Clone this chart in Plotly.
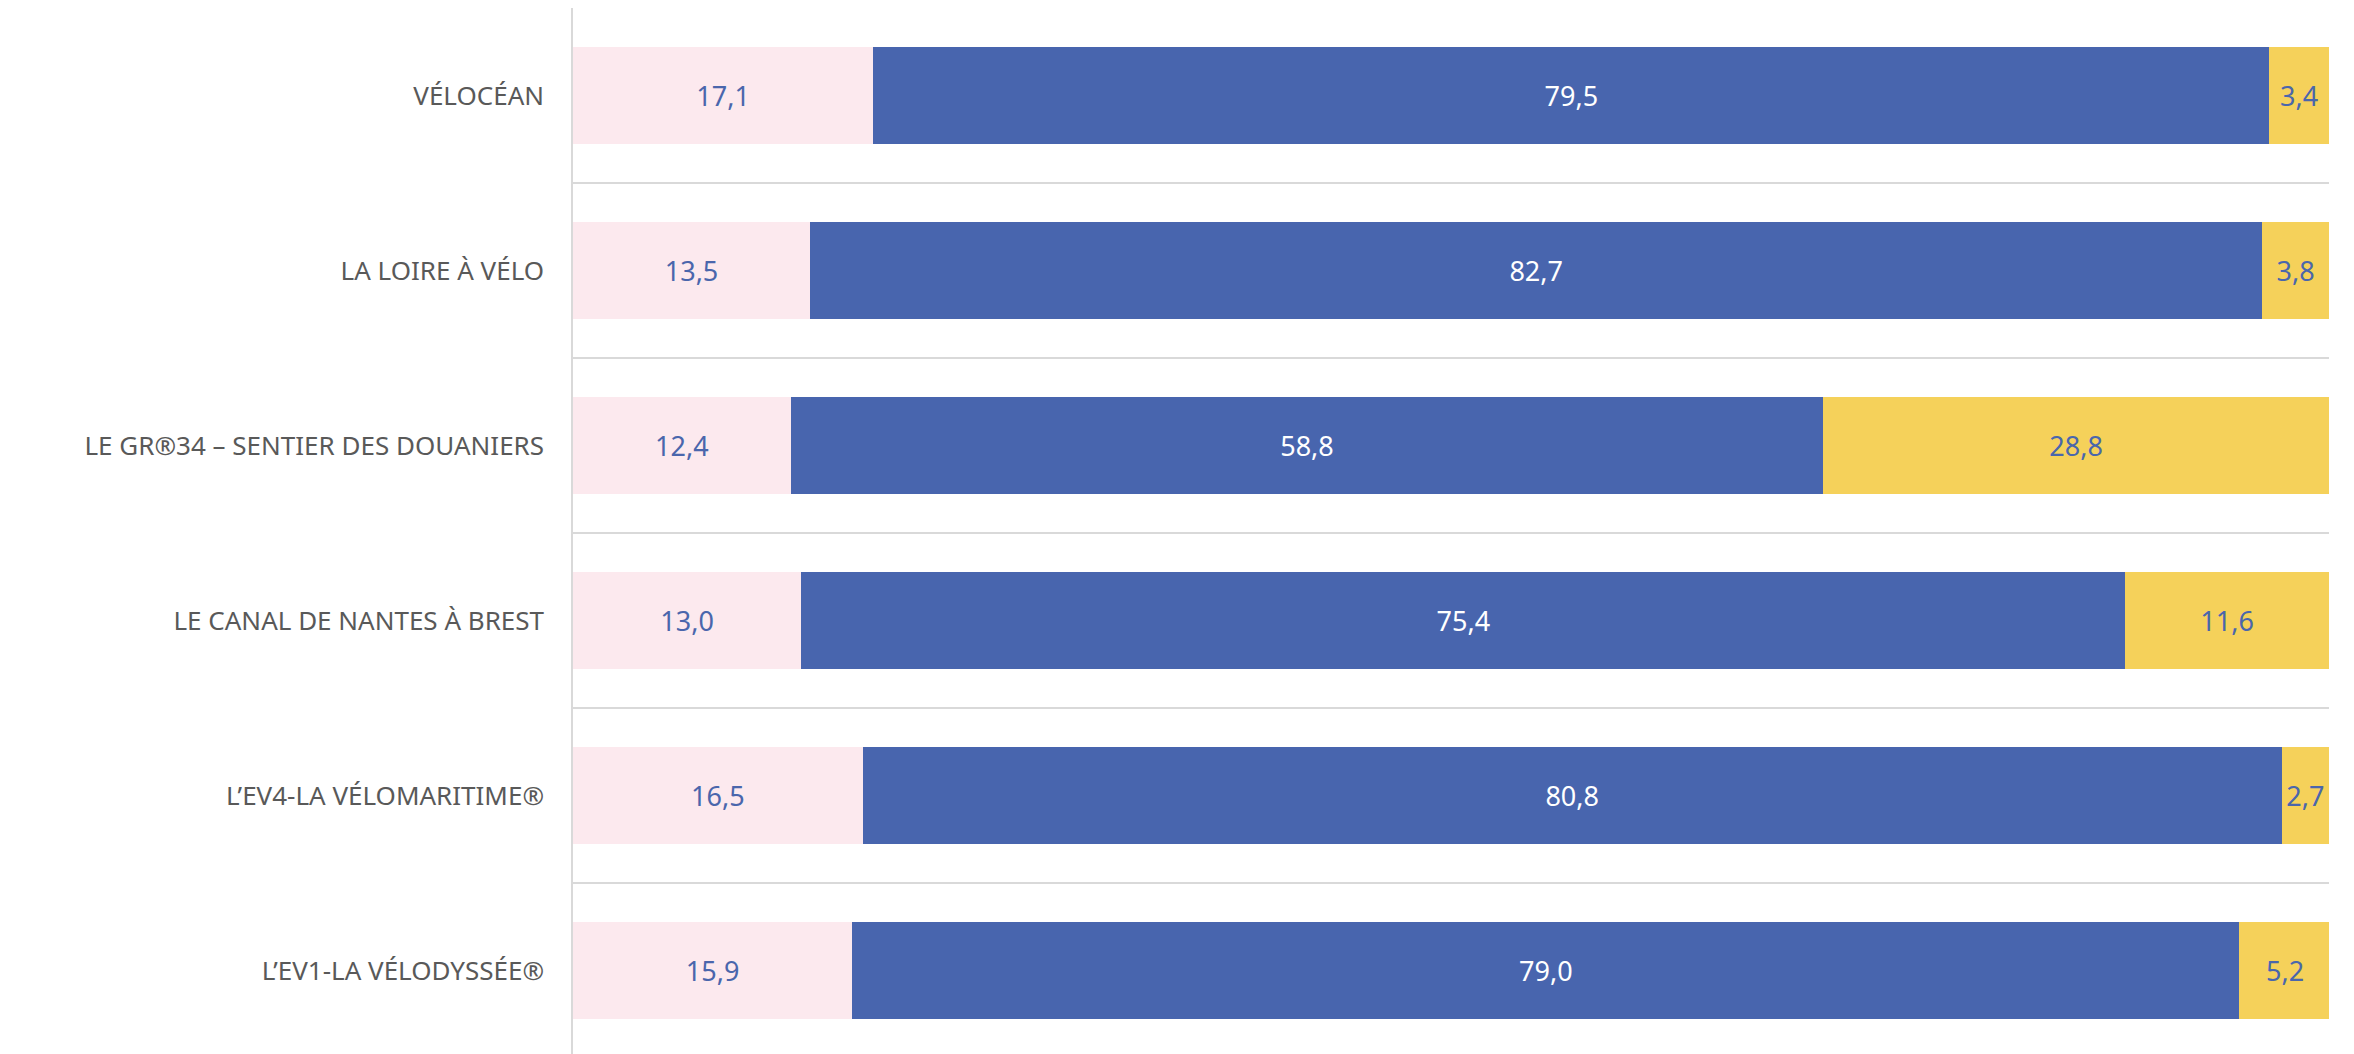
import plotly.graph_objects as go

# itinéraires, de haut en bas
routes = [
    "VÉLOCÉAN",
    "LA LOIRE À VÉLO",
    "LE GR®34 – SENTIER DES DOUANIERS",
    "LE CANAL DE NANTES À BREST",
    "L’EV4-LA VÉLOMARITIME®",
    "L’EV1-LA VÉLODYSSÉE®",
]
part_1 = [17.1, 13.5, 12.4, 13.0, 16.5, 15.9]
part_2 = [79.5, 82.7, 58.8, 75.4, 80.8, 79.0]
part_3 = [3.4, 3.8, 28.8, 11.6, 2.7, 5.2]

PINK = "#FCE9EE"
BLUE = "#4865AE"
YELLOW = "#F5D15A"
TEXT_BLUE = "#4A66AC"

fig = go.Figure()
for name, vals, color, txt in [
    ("Série 1", part_1, PINK, TEXT_BLUE),
    ("Série 2", part_2, BLUE, "white"),
    ("Série 3", part_3, YELLOW, TEXT_BLUE),
]:
    fig.add_trace(go.Bar(
        name=name,
        x=vals,
        y=routes,
        orientation="h",
        marker=dict(color=color, line=dict(width=0)),
        texttemplate="%{x:.1f}",
        textposition="inside",
        insidetextanchor="middle",
        textangle=0,
        constraintext="none",
        insidetextfont=dict(family="Noto Sans", size=27, color=txt),
        hoverinfo="skip",
    ))

# the page body adds 8px around the figure, so the figure is 8px smaller
fig.update_layout(
    width=2346,
    height=1046,
    barmode="stack",
    bargap=0.442,
    separators=", ",
    showlegend=False,
    plot_bgcolor="white",
    paper_bgcolor="white",
    margin=dict(l=565, r=25, t=0, b=0),
    font=dict(family="Noto Sans", color="#595959"),
    xaxis=dict(
        range=[0, 100],
        showgrid=False,
        zeroline=False,
        showticklabels=False,
        showline=False,
        fixedrange=True,
    ),
    yaxis=dict(
        type="category",
        categoryorder="array",
        categoryarray=routes,
        range=[5.477, -0.5],
        tickson="boundaries",
        showgrid=True,
        gridcolor="#D9D9D9",
        gridwidth=2,
        showline=True,
        linecolor="#D9D9D9",
        linewidth=1.5,
        ticks="",
        ticklabelstandoff=22,
        tickfont=dict(family="Noto Sans", size=26, color="#595959"),
        fixedrange=True,
    ),
    shapes=[
        dict(type="line", xref="paper", yref="paper",
             x0=1.0137, x1=1.0137, y0=0, y1=0.0755,
             line=dict(color=TEXT_BLUE, width=1.5)),
    ],
)

fig.write_html("out.html")
